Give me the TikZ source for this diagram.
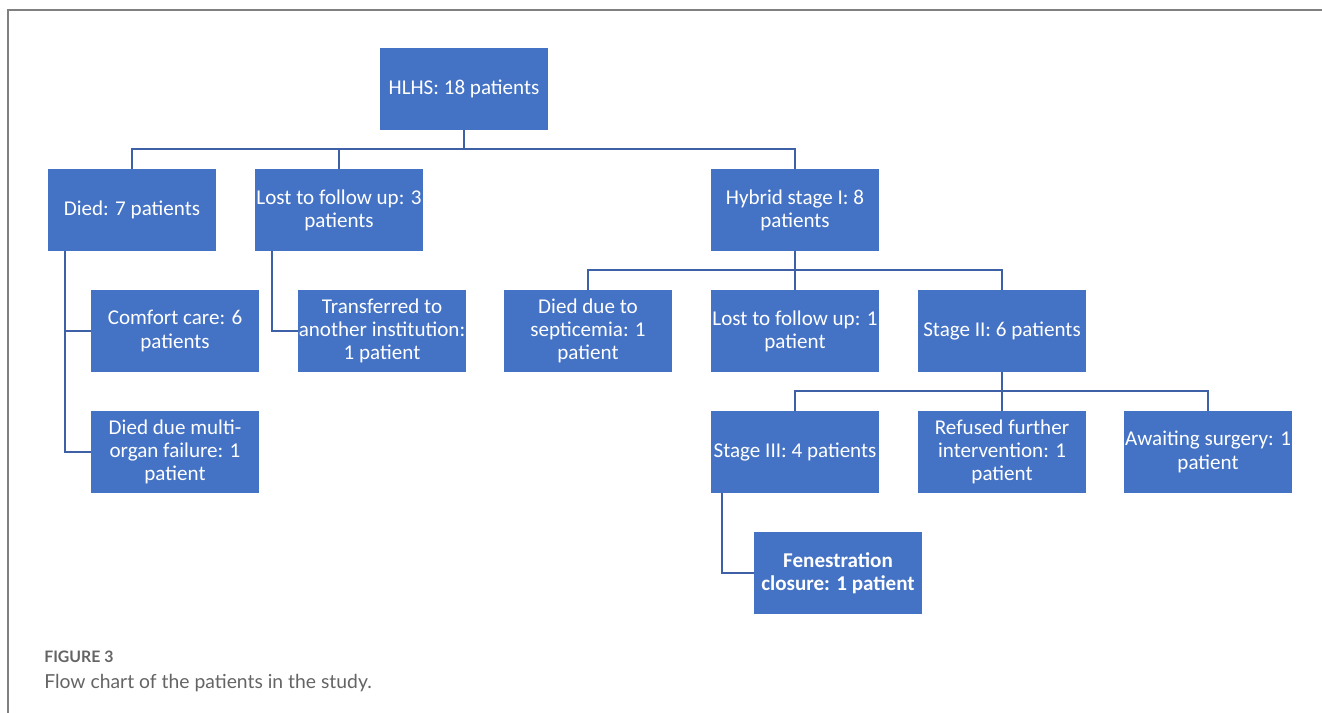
\documentclass[tikz,border=0pt]{standalone}
\usepackage{fontspec}
\setmainfont{Carlito}
\newfontfamily\capfont{Lato}
\usetikzlibrary{positioning}

\definecolor{boxblue}{RGB}{68,114,196}
\definecolor{linkblue}{RGB}{62,96,166}
\definecolor{framegray}{RGB}{128,128,128}
\definecolor{capgray}{RGB}{100,100,100}

\tikzset{
    box/.style={rectangle, fill=boxblue, text=white, align=center,
        minimum width=3.36cm, minimum height=1.64cm, inner sep=0pt,
        font=\fontsize{12}{13.2}\selectfont},
    link/.style={draw=linkblue, line width=1.1pt},
}

\begin{document}
\begin{tikzpicture}[x=0.02cm, y=-0.02cm]
        \useasboundingbox (0,0) rectangle (1322,713);
        \draw[framegray, line width=0.8pt] (8,713) -- (8,10) -- (1322,10);

        \draw (464,89) node[box] (hlhs) {HLHS: 18 patients};
        \draw (132,210) node[box] (died) {Died: 7 patients};
        \draw (339,210) node[box] (lost) {Lost to follow up: 3\\patients};
        \draw (795,210) node[box] (hybrid) {Hybrid stage I: 8\\patients};
        \draw (175,331) node[box] (comfort) {Comfort care: 6\\patients};
        \draw (382,331) node[box] (transfer) {Transferred to\\another institution:\\1 patient};
        \draw (588,331) node[box] (sepsis) {Died due to\\septicemia: 1\\patient};
        \draw (795,331) node[box] (lostb) {Lost to follow up: 1\\patient};
        \draw (1002,331) node[box] (stageii) {Stage II: 6 patients};
        \draw (175,452) node[box] (organ) {Died due multi-\\organ failure: 1\\patient};
        \draw (795,452) node[box] (stageiii) {Stage III: 4 patients};
        \draw (1002,452) node[box] (refused) {Refused further\\intervention: 1\\patient};
        \draw (1208,452) node[box] (awaiting) {Awaiting surgery: 1\\patient};
        \draw (838,573) node[box, font=\fontsize{12}{13.2}\selectfont\bfseries] (fenestr) {Fenestration\\closure: 1 patient};

        \coordinate (diedtrunk) at ([xshift=0.34cm]died.south west);
        \coordinate (losttrunk) at ([xshift=0.34cm]lost.south west);
        \coordinate (stiiitrunk) at ([xshift=0.23cm]stageiii.south west);

        \draw[link] (hlhs.south) -- ++(0,19) -| (died.north);
        \draw[link] (hlhs.south) -- ++(0,19) -| (lost.north);
        \draw[link] (hlhs.south) -- ++(0,19) -| (hybrid.north);
        \draw[link] (diedtrunk) |- (comfort.west);
        \draw[link] (diedtrunk) |- (organ.west);
        \draw[link] (losttrunk) |- (transfer.west);
        \draw[link] (hybrid.south) -- ++(0,19) -| (sepsis.north);
        \draw[link] (hybrid.south) -- ++(0,19) -| (lostb.north);
        \draw[link] (hybrid.south) -- ++(0,19) -| (stageii.north);
        \draw[link] (stageii.south) -- ++(0,19) -| (stageiii.north);
        \draw[link] (stageii.south) -- ++(0,19) -| (refused.north);
        \draw[link] (stageii.south) -- ++(0,19) -| (awaiting.north);
        \draw[link] (stiiitrunk) |- (fenestr.west);

        \node[anchor=base west, inner sep=0pt, text=capgray, font=\capfont\fontsize{9}{10}\selectfont\bfseries] (fignum) at (44,662) {FIGURE 3};
        \node[anchor=base west, inner sep=0pt, text=capgray, font=\capfont\fontsize{11}{13}\selectfont] (caption) at (44,688) {Flow chart of the patients in the study.};
\end{tikzpicture}
\end{document}
